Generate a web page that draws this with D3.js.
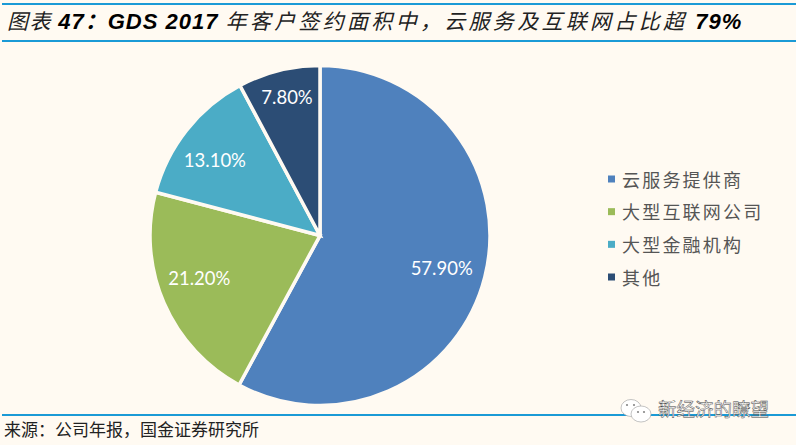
<!DOCTYPE html>
<html>
<head>
<meta charset="utf-8">
<script src="https://cdn.jsdelivr.net/npm/d3@7"></script>
<style>
  html, body { margin: 0; padding: 0; background: #fffaf2; overflow: hidden; }
  text { font-family: "Noto Sans CJK SC", sans-serif; }
</style>
</head>
<body>
<div id="chart"></div>
<script>
const categories = ['云服务提供商', '大型互联网公司', '大型金融机构', '其他'];
const shares = [57.9, 21.2, 13.1, 7.8];
const shareLabels = ['57.90%', '21.20%', '13.10%', '7.80%'];
const colors = ['#4f81bd', '#9bbb59', '#4bacc6', '#2c4d75'];
const titleParts = [
  { text: '图表 ', bold: false },
  { text: '47', bold: true },
  { text: '：', bold: true },
  { text: 'GDS 2017 ', bold: true },
  { text: '年客户签约面积中，', bold: false },
  { text: '云服务及互联网占比超 ', bold: false },
  { text: '79%', bold: true },
];
const sourceText = '来源：公司年报，国金证券研究所';
const watermark = '新经济的瞭望';

const width = 796;
const height = 445;
const ruleColor = '#1b9ad6';

const svg = d3.select('#chart').append('svg')
  .attr('width', width)
  .attr('height', height)
  .style('display', 'block');

svg.append('rect')
  .attr('width', width)
  .attr('height', height)
  .style('fill', '#fffaf2');

/* 标题和分隔线 */
[4, 41, 415].forEach(y => {
  svg.append('rect')
    .attr('x', 2)
    .attr('y', y - 1)
    .attr('width', width - 2)
    .attr('height', 2)
    .style('fill', ruleColor);
});

const title = svg.append('text')
  .attr('x', 7)
  .attr('y', 29)
  .style('font-style', 'italic');
title.selectAll('tspan')
  .data(titleParts)
  .enter().append('tspan')
  .text(d => d.text)
  .style('font-family', d => d.bold ? '"Liberation Sans", "Noto Sans CJK SC"' : '"Noto Sans CJK SC"')
  .style('font-size', d => d.bold ? '22px' : '21px')
  .style('letter-spacing', (d, i) => d.bold ? '1px' : (i === 0 ? '1.5px' : '3.3px'))
  .style('font-weight', d => d.bold ? 700 : 400)
  .style('fill', d => d.bold ? '#000' : '#222');

/* 绘制饼图 */
const pie = d3.pie().sort(null).value(d => d);
const arc = d3.arc().innerRadius(0).outerRadius(170);
// 标签不在同一半径上，小扇区的标签更靠外
const labelRadius = [126, 128, 129, 142];
const labelTurn = [0.8, 4, -2.9, 0.6].map(deg => deg * Math.PI / 180);
const labelPos = (d, i) => d3.arc()
  .innerRadius(labelRadius[i])
  .outerRadius(labelRadius[i])
  .centroid({ startAngle: d.startAngle + labelTurn[i], endAngle: d.endAngle + labelTurn[i] });

const pieGroup = svg.append('g')
  .attr('transform', 'translate(320, 235.5)');

const slices = pieGroup.selectAll('.slice')
  .data(pie(shares))
  .enter().append('g')
  .attr('class', 'slice');

slices.append('path')
  .attr('d', arc)
  .style('fill', (d, i) => colors[i])
  .style('stroke', '#fffaf2')
  .style('stroke-width', 3.5);

slices.append('text')
  .attr('transform', (d, i) => `translate(${labelPos(d, i)})`)
  .attr('dy', '.35em')
  .text((d, i) => shareLabels[i])
  .style('font-family', 'Lato, sans-serif')
  .style('font-size', '18.5px')
  .style('text-anchor', 'middle')
  .style('fill', '#fff');

/* 绘制legend */
const legendY = d3.scalePoint()
  .domain(categories)
  .range([179, 277]);

const legend = svg.append('g')
  .selectAll('.legend')
  .data(categories)
  .enter().append('g')
  .attr('class', 'legend')
  .attr('transform', d => `translate(608, ${legendY(d)})`);

legend.append('rect')
  .attr('x', 0)
  .attr('y', -3.5)
  .attr('width', 7)
  .attr('height', 7)
  .style('fill', (d, i) => colors[i]);

legend.append('text')
  .attr('x', 14)
  .attr('dy', '.42em')
  .text(d => d)
  .style('font-size', '18px')
  .style('letter-spacing', '2.2px')
  .style('fill', '#555');

/* 来源 */
svg.append('text')
  .attr('x', 4)
  .attr('y', 436)
  .text(sourceText)
  .style('font-size', '17px')
  .style('fill', '#222');

/* 水印 */
const mark = svg.append('g');
mark.append('ellipse')
  .attr('cx', 631).attr('cy', 408).attr('rx', 10).attr('ry', 8.5)
  .style('fill', '#fff').style('stroke', '#aaa').style('stroke-width', 0.7);
mark.append('ellipse')
  .attr('cx', 641).attr('cy', 414).attr('rx', 10).attr('ry', 8)
  .style('fill', '#fff').style('stroke', '#aaa').style('stroke-width', 0.7);
[[627, 405], [634, 405], [638, 412], [644, 412]].forEach(([cx, cy]) => {
  mark.append('circle')
    .attr('cx', cx).attr('cy', cy).attr('r', 1.1)
    .style('fill', '#888');
});
mark.append('text')
  .attr('x', 658)
  .attr('y', 416)
  .text(watermark)
  .style('font-size', '18.5px')
  .style('fill', '#fff')
  .style('stroke', '#444')
  .style('stroke-width', 0.45);
</script>
</body>
</html>
